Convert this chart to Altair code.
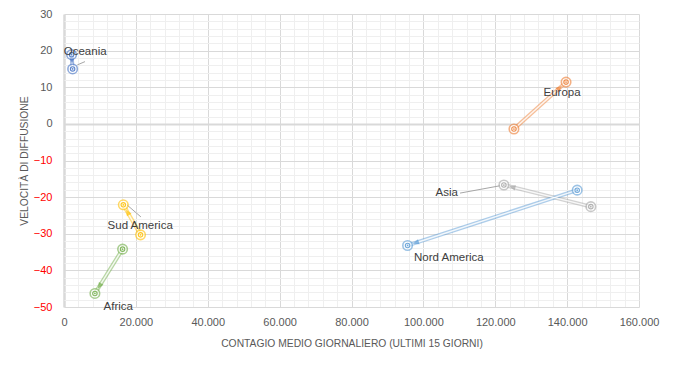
import math
import altair as alt
import pandas as pd

# ---- data ----
regions = ["Oceania", "Europa", "Asia", "Nord America", "Sud America", "Africa"]
colors = ["#4472C4", "#ED7D31", "#A5A5A5", "#5B9BD5", "#FFC000", "#70AD47"]
x_prev = [2100, 125200, 146600, 142800, 21300, 16300]
y_prev = [18.9, -1.4, -22.6, -18.1, -30.3, -34.2]
x_curr = [2400, 139700, 122400, 95600, 16500, 8600]
y_curr = [15.0, 11.4, -16.7, -33.2, -22.1, -46.3]
label_x = [5900, 138600, 106500, 107100, 21200, 15100]
label_y = [19.75, 8.4, -18.9, -36.6, -27.8, -49.9]

# leader lines (label -> point), data units
leader_region = ["Oceania", "Asia", "Sud America"]
leader_x1 = [3700, 110200, 21400]
leader_y1 = [16.1, -18.9, -25.4]
leader_x2 = [5840, 121300, 17500]
leader_y2 = [17.0, -16.9, -22.1]

x_ticks = list(range(0, 160001, 4000))
y_ticks = list(range(-50, 31, 2))

W, H = 575, 293
XMIN, XMAX = 0, 160000
YMIN, YMAX = -50, 30
PX_X = W / (XMAX - XMIN)
PX_Y = H / (YMAX - YMIN)
FONT = "Liberation Sans"

# ---- derived tables ----
arrows = pd.DataFrame(dict(region=regions, x_prev=x_prev, y_prev=y_prev,
                           x_curr=x_curr, y_curr=y_curr))
ah_x, ah_y, ang = [], [], []
for xp, yp, xc, yc in zip(x_prev, y_prev, x_curr, y_curr):
    dxp = (xc - xp) * PX_X
    dyp = (yc - yp) * PX_Y
    L = math.hypot(dxp, dyp)
    ux, uy = dxp / L, dyp / L
    back = 9.0
    ah_x.append(xc - ux * back / PX_X)
    ah_y.append(yc - uy * back / PX_Y)
    ang.append(math.degrees(math.atan2(dxp, dyp)) % 360)
arrows["ah_x"] = ah_x
arrows["ah_y"] = ah_y
arrows["angle"] = ang

points = pd.DataFrame(dict(
    region=regions + regions,
    x=x_prev + x_curr,
    y=y_prev + y_curr,
))
labels = pd.DataFrame(dict(region=regions, lx=label_x, ly=label_y))
leaders = pd.DataFrame(dict(region=leader_region, x1=leader_x1, y1=leader_y1,
                            x2=leader_x2, y2=leader_y2))

xscale = alt.Scale(domain=[XMIN, XMAX], nice=False, zero=False)
yscale = alt.Scale(domain=[YMIN, YMAX], nice=False, zero=False)

xaxis = alt.Axis(
    values=x_ticks,
    labelExpr="datum.value % 20000 === 0 ? replace(format(datum.value, ','), ',', '.') : ''",
    labelOverlap=False, labelFlush=False, ticks=False, domain=False,
    labelFont=FONT, labelFontSize=11, labelColor="#595959", labelPadding=9,
    grid=True,
    gridColor={"condition": {"test": "datum.value % 20000 === 0", "value": "#d9d9d9"}, "value": "#efefef"},
    gridWidth={"condition": {"test": "datum.value === 0", "value": 2.5}, "value": 1},
    title="CONTAGIO MEDIO GIORNALIERO (ULTIMI 15 GIORNI)",
    titleFont=FONT, titleFontSize=10.3, titleFontWeight="normal", titleColor="#595959",
    titleX=W / 2, titleY=36, titleBaseline="middle", titleAlign="center",
)
yaxis = alt.Axis(
    values=y_ticks,
    labelExpr="datum.value % 10 === 0 ? format(datum.value, 'd') : ''",
    labelOverlap=False, labelFlush=False, ticks=False, domain=False,
    labelFont=FONT, labelFontSize=11, labelPadding=12,
    labelColor={"condition": {"test": "datum.value < 0", "value": "#FF0000"}, "value": "#595959"},
    grid=True,
    gridColor={"condition": {"test": "datum.value % 10 === 0", "value": "#d9d9d9"}, "value": "#efefef"},
    gridWidth={"condition": {"test": "datum.value === 0", "value": 2}, "value": 1},
    title="VELOCITÀ DI DIFFUSIONE",
    titleFont=FONT, titleFontSize=10.3, titleFontWeight="normal", titleColor="#595959",
    titleX=-39.5, titleY=H / 2, titleBaseline="middle", titleAlign="center", titleAngle=270,
)

cscale = alt.Scale(domain=regions, range=colors)
col = alt.Color("region:N", scale=cscale, legend=None)
stk = alt.Stroke("region:N", scale=cscale, legend=None)

base_arrow = alt.Chart(arrows)
arrow_outer = base_arrow.mark_rule(strokeWidth=4, opacity=0.5).encode(
    x=alt.X("x_prev:Q", scale=xscale, axis=xaxis),
    y=alt.Y("y_prev:Q", scale=yscale, axis=yaxis),
    x2="x_curr:Q", y2="y_curr:Q", color=col)
arrow_inner = base_arrow.mark_rule(strokeWidth=1.4, color="white", opacity=0.85).encode(
    x=alt.X("x_prev:Q", scale=xscale, axis=xaxis),
    y=alt.Y("y_prev:Q", scale=yscale, axis=yaxis),
    x2="x_curr:Q", y2="y_curr:Q")
arrow_head = base_arrow.mark_point(
    shape="M0,-1L0.75,0.8L-0.75,0.8Z", filled=True, size=49, opacity=0.7, strokeWidth=0
).encode(
    x=alt.X("ah_x:Q", scale=xscale, axis=xaxis),
    y=alt.Y("ah_y:Q", scale=yscale, axis=yaxis),
    angle=alt.Angle("angle:Q", scale=None), color=col)

leader = alt.Chart(leaders).mark_rule(color="#a6a6a6", strokeWidth=1).encode(
    x=alt.X("x1:Q", scale=xscale, axis=xaxis),
    y=alt.Y("y1:Q", scale=yscale, axis=yaxis),
    x2="x2:Q", y2="y2:Q")

pbase = alt.Chart(points)
px = alt.X("x:Q", scale=xscale, axis=xaxis)
py = alt.Y("y:Q", scale=yscale, axis=yaxis)
ring_outer = pbase.mark_point(shape="circle", size=90, filled=True, fill="white",
                              strokeWidth=1.6, strokeOpacity=0.85).encode(x=px, y=py, stroke=stk)
ring_inner = pbase.mark_point(shape="circle", size=20, filled=False,
                              strokeWidth=1.1, opacity=0.85).encode(x=px, y=py, stroke=stk)
dot = pbase.mark_point(shape="circle", size=3, filled=True, opacity=0.85).encode(x=px, y=py, color=col)

text = alt.Chart(labels).mark_text(font=FONT, fontSize=11.5, color="#404040").encode(
    x=alt.X("lx:Q", scale=xscale, axis=xaxis),
    y=alt.Y("ly:Q", scale=yscale, axis=yaxis),
    text="region:N")

chart = alt.layer(
    arrow_outer, arrow_inner, arrow_head, leader, ring_outer, ring_inner, dot, text
).properties(
    width=W, height=H,
    autosize=alt.AutoSizeParams(type="none"),
    padding={"left": 56, "top": 6, "right": 27, "bottom": 51},
    background="white",
).configure_view(stroke=None)

chart.save("out.html", embed_options={"renderer": "svg", "actions": False})
